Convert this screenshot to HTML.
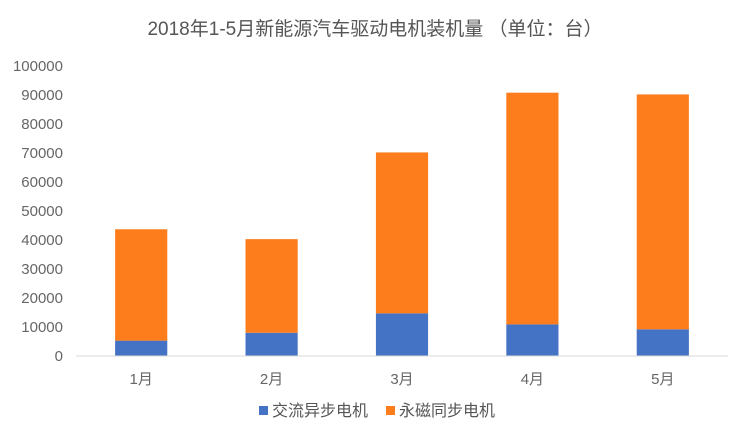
<!DOCTYPE html>
<html><head><meta charset="utf-8"><style>
html,body{margin:0;padding:0;background:#fff;}
svg text{font-family:"Liberation Sans","Noto Sans CJK SC",sans-serif;}
</style></head><body>
<svg id="chart" width="750" height="439" viewBox="0 0 750 439">
<text x="375" y="35" text-anchor="middle" font-size="19" fill="#555">2018年1-5月新能源汽车驱动电机装机量 （单位：台）</text>
<g id="yaxis"></g>
<g id="bars"></g>
<line x1="76" y1="356" x2="728" y2="356" stroke="#d9d9d9" stroke-width="1"/>
<g id="xaxis"></g>
<g>
<g><rect x="259" y="406" width="9" height="9" fill="#4472c4"/><text x="272" y="416" font-size="16" fill="#555">交流异步电机</text></g>
<g><rect x="386" y="406" width="9" height="9" fill="#fd7c1b"/><text x="399" y="416" font-size="16" fill="#555">永磁同步电机</text></g>
</g>
</svg>
<script>
const categories = ["1月","2月","3月","4月","5月"];
const acValues = [5300, 8000, 14700, 10900, 9200];
const pmValues = [38400, 32300, 55500, 79900, 81000];
const yTicks = [0,10000,20000,30000,40000,50000,60000,70000,80000,90000,100000];

const NS = "http://www.w3.org/2000/svg";
const plotL = 76, plotR = 728, y0 = 356, yTop = 66, yMax = 100000;
const yScale = v => y0 - (v / yMax) * (y0 - yTop);
const band = (plotR - plotL) / categories.length;
const xCenter = i => plotL + band * (i + 0.5);
const barW = band * 0.4;

const yaxis = document.getElementById('yaxis');
yTicks.forEach(t => {
  const el = document.createElementNS(NS, 'text');
  el.setAttribute('x', 63);
  el.setAttribute('y', yScale(t) + 5);
  el.setAttribute('text-anchor', 'end');
  el.setAttribute('font-size', '15');
  el.setAttribute('fill', '#666');
  el.textContent = t;
  
  
  yaxis.appendChild(el);
});

const bars = document.getElementById('bars');
const xaxis = document.getElementById('xaxis');
categories.forEach((c, i) => {
  const x = xCenter(i) - barW / 2;
  const b = document.createElementNS(NS, 'rect');
  b.setAttribute('x', x);
  b.setAttribute('y', yScale(acValues[i]));
  b.setAttribute('width', barW);
  b.setAttribute('height', y0 - yScale(acValues[i]));
  b.setAttribute('fill', '#4472c4');
  
  
  bars.appendChild(b);
  const total = acValues[i] + pmValues[i];
  const o = document.createElementNS(NS, 'rect');
  o.setAttribute('x', x);
  o.setAttribute('y', yScale(total));
  o.setAttribute('width', barW);
  o.setAttribute('height', yScale(acValues[i]) - yScale(total));
  o.setAttribute('fill', '#fd7c1b');
  
  
  bars.appendChild(o);
  const t = document.createElementNS(NS, 'text');
  t.setAttribute('x', xCenter(i));
  t.setAttribute('y', 384);
  t.setAttribute('text-anchor', 'middle');
  t.setAttribute('font-size', '15');
  t.setAttribute('fill', '#666');
  t.textContent = c;
  
  
  xaxis.appendChild(t);
});
</script>
</body></html>
